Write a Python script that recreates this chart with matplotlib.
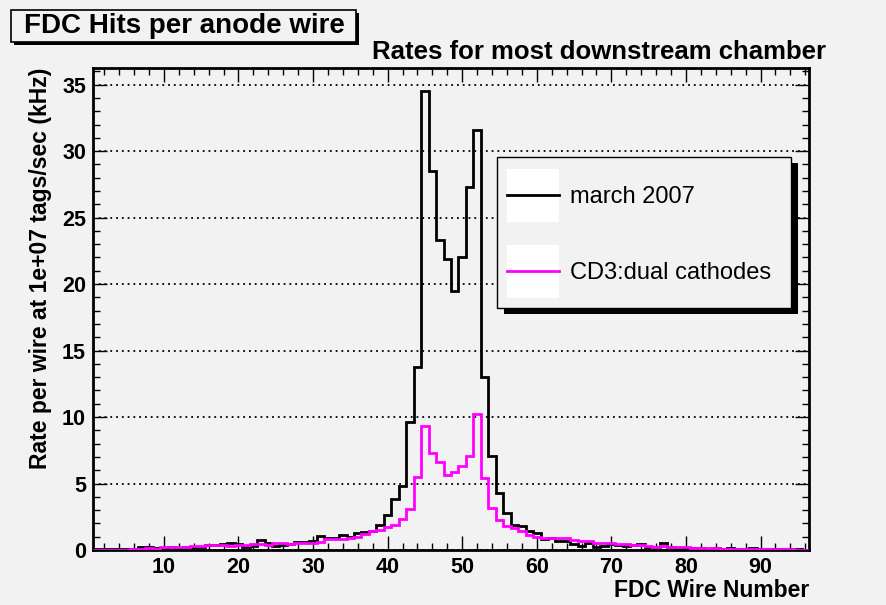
import numpy as np
import matplotlib
matplotlib.use('Agg')
import matplotlib.pyplot as plt
from matplotlib.patches import Rectangle
from matplotlib.lines import Line2D
from matplotlib.ticker import MultipleLocator

# wire numbers 1..96, one bin per wire
wires = np.arange(1, 97)

march_2007 = [
    0.1, 0.1, 0.05, 0.05, 0.1, 0.05, 0.2, 0.2, 0.15, 0.1, 0.2, 0.15, 0.25, 0.25, 0.25, 0.35, 0.4, 0.45,
    0.5, 0.45, 0.2, 0.3, 0.75, 0.5, 0.33, 0.4, 0.45, 0.58, 0.58, 0.7, 1.08, 0.93, 0.93, 1.13, 0.95, 1.25,
    1.35, 1.4, 1.9, 2.6, 3.8, 4.8, 9.6, 13.8, 34.5, 28.5, 23.3, 21.9, 19.5, 22.0, 27.3, 31.6, 13.0, 7.1,
    4.3, 2.8, 1.9, 1.8, 1.4, 1.25,
    0.8, 0.88, 0.68, 0.68, 0.43, 0.3, 0.5, 0.2, 0.33, 0.43, 0.38, 0.3, 0.38, 0.43, 0.2, 0.2, 0.5, 0.25,
    0.18, 0.15, 0.12, 0.15, 0.1, 0.12, 0.1, 0.15, 0.1, 0.1, 0.12, 0.1, 0.08, 0.05, 0.05, 0.05, 0.05, 0.02,
]

cd3_dual = [
    0.0, 0.0, 0.0, 0.0, 0.02, 0.1, 0.1, 0.15, 0.1, 0.2, 0.2, 0.25, 0.25, 0.3, 0.3, 0.35, 0.35, 0.4,
    0.3, 0.38, 0.38, 0.43, 0.45, 0.38, 0.55, 0.5, 0.43, 0.5, 0.55, 0.55, 0.63, 0.8, 0.83, 0.83, 0.93, 0.95,
    1.2, 1.4, 1.5, 1.75, 1.9, 2.3, 3.1, 5.5, 9.3, 7.3, 6.65, 5.65, 5.9, 6.3, 7.05, 10.2, 5.4, 3.15,
    2.25, 1.8, 1.65, 1.4, 1.15, 1.0,
    0.88, 0.93, 0.88, 0.88, 0.75, 0.68, 0.68, 0.55, 0.55, 0.5, 0.45, 0.45, 0.38, 0.38, 0.33, 0.25, 0.3, 0.2,
    0.2, 0.2, 0.15, 0.12, 0.12, 0.12, 0.1, 0.08, 0.08, 0.08, 0.1, 0.08, 0.05, 0.05, 0.05, 0.05, 0.03, 0.0,
]

labels = ['march 2007', 'CD3:dual cathodes']
colors = ['black', '#ff00ff']

W, H = 886, 605
BG = '#f2f2f2'

plt.rcParams['font.family'] = ['Liberation Sans', 'DejaVu Sans']
plt.rcParams['xtick.direction'] = 'in'
plt.rcParams['ytick.direction'] = 'in'


def fx(px):
    return px / W


def fy(py):
    return 1 - py / H


fig = plt.figure(figsize=(W / 100, H / 100), dpi=100, facecolor=BG)
ax = fig.add_axes([fx(93), fy(550), fx(809) - fx(93), fy(68) - fy(550)])
ax.set_facecolor(BG)

edges = np.append(wires - 0.5, wires[-1] + 0.5)
ax.stairs(march_2007, edges, color=colors[0], lw=2.0, baseline=None, zorder=3)
ax.stairs(cd3_dual, edges, color=colors[1], lw=2.0, baseline=None, zorder=4)

ax.set_xlim(edges[0], edges[-1])
ax.set_ylim(0, 36.25)

ax.xaxis.set_major_locator(MultipleLocator(10))
ax.xaxis.set_minor_locator(MultipleLocator(2))
ax.yaxis.set_major_locator(MultipleLocator(5))
ax.yaxis.set_minor_locator(MultipleLocator(1))
ax.tick_params(which='both', top=True, right=True, width=1.0, color='black')
ax.tick_params(which='major', length=10, labelsize=15.5, pad=5)
ax.tick_params(which='minor', length=5)
for lab in ax.get_xticklabels() + ax.get_yticklabels():
    lab.set_fontweight('bold')
ax.grid(axis='y', which='major', linestyle=(0, (1, 2.2)), color='black', lw=1.3)
ax.set_axisbelow(True)
for sp in ax.spines.values():
    sp.set_linewidth(2.0)

ax.set_xlabel('FDC Wire Number', fontsize=16.5, fontweight='bold', loc='right', labelpad=1)
ax.set_ylabel('Rate per wire at 1e+07 tags/sec (kHz)', fontsize=16.5, fontweight='bold',
              loc='top', labelpad=7)

# subtitle
fig.text(fx(826), fy(52), 'Rates for most downstream chamber', ha='right', va='center',
         fontsize=18.5, fontweight='bold')

# title box with a small shadow
fig.patches.append(Rectangle((fx(14), fy(45)), fx(345), fy(10) - fy(42), transform=fig.transFigure,
                             fc='black', ec='none', zorder=1))
fig.patches.append(Rectangle((fx(11), fy(42)), fx(345), fy(10) - fy(42), transform=fig.transFigure,
                             fc=BG, ec='black', lw=1.2, zorder=2))
fig.text(fx(184), fy(26), 'FDC Hits per anode wire', ha='center', va='center',
         fontsize=20, fontweight='bold', zorder=3)

# legend box
lx0, lx1, ly0, ly1 = 497, 791, 157, 308
fig.patches.append(Rectangle((fx(lx0 + 7), fy(ly1 + 6)), fx(lx1 - lx0), fy(ly0) - fy(ly1),
                             transform=fig.transFigure, fc='black', ec='none', zorder=5))
fig.patches.append(Rectangle((fx(lx0), fy(ly1)), fx(lx1 - lx0), fy(ly0) - fy(ly1),
                             transform=fig.transFigure, fc=BG, ec='black', lw=1.0, zorder=6))
for i, (lab, col) in enumerate(zip(labels, colors)):
    top = 169 + i * 76
    fig.patches.append(Rectangle((fx(507), fy(top + 53)), fx(52), fy(top) - fy(top + 53),
                                 transform=fig.transFigure, fc='white', ec='none', zorder=7))
    fig.lines.append(Line2D([fx(507), fx(559)], [fy(top + 26), fy(top + 26)],
                            transform=fig.transFigure, color=col, lw=2.0, zorder=8))
    fig.text(fx(570), fy(top + 28), lab, ha='left', va='center', fontsize=17, zorder=9)

fig.savefig('out.png', dpi=100, facecolor=BG)
